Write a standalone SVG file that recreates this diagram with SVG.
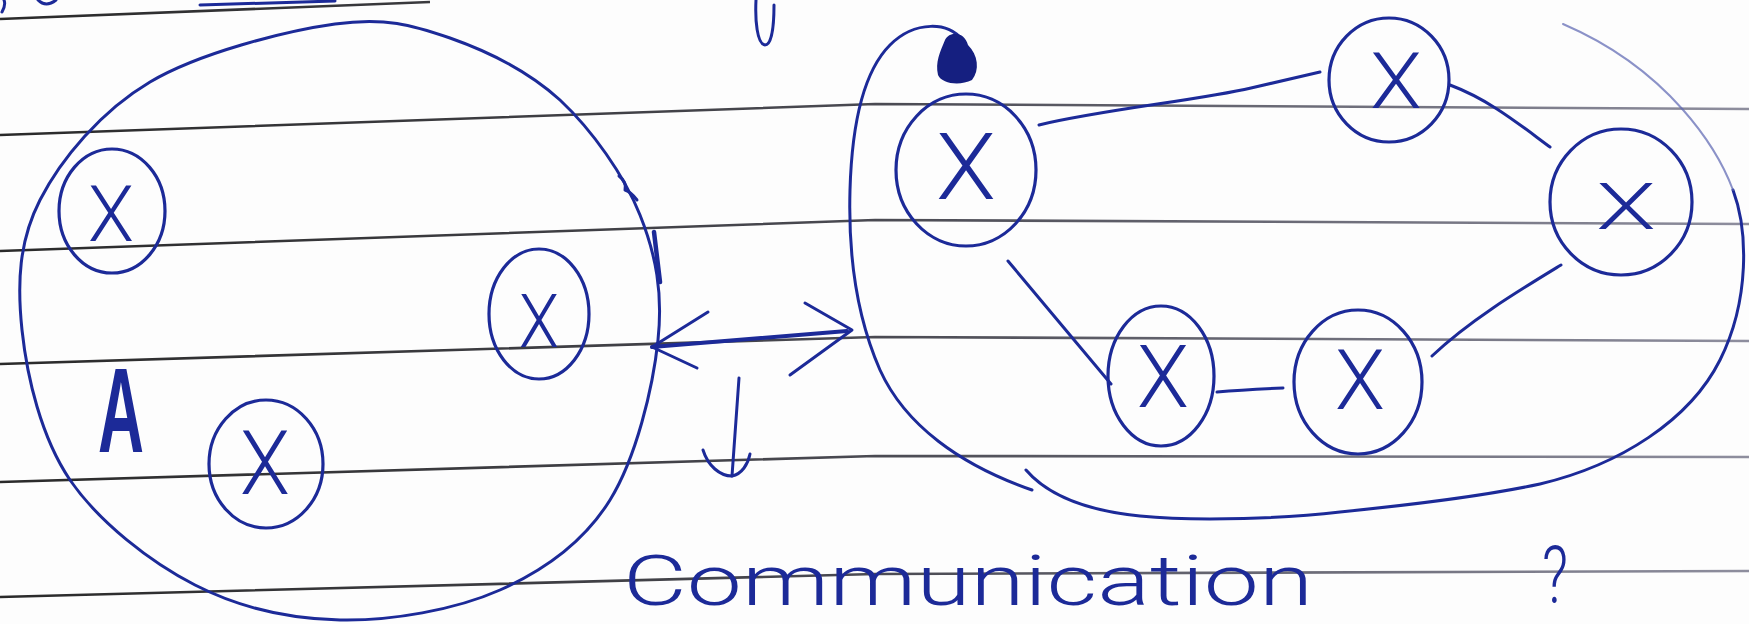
<svg xmlns="http://www.w3.org/2000/svg" width="1749" height="624" viewBox="0 0 1749 624">
<defs>
<linearGradient id="rule" gradientUnits="userSpaceOnUse" x1="0" y1="0" x2="1749" y2="0">
<stop offset="0" stop-color="#2a2a2a"/>
<stop offset="0.5" stop-color="#4a4a52"/>
<stop offset="1" stop-color="#8e8e9e"/>
</linearGradient>
</defs>
<style>
.rule{fill:none;stroke:url(#rule);stroke-width:2.6}
.ink{fill:none;stroke:#1c2a98;stroke-width:3;stroke-linecap:round;stroke-linejoin:round}
.faint{fill:none;stroke:#5a64b0;stroke-width:2;stroke-linecap:round;opacity:0.7}
.node{fill:none;stroke:#1c2a98;stroke-width:3.2}
.x{font-family:Roboto,'Liberation Sans',sans-serif;font-weight:300;fill:#1c2a98;text-anchor:middle}
.hand{font-family:Roboto,'Liberation Sans',sans-serif;font-weight:300;fill:#1c2a98}
</style>
<rect width="1749" height="624" fill="#fdfdfd"/>
<g id="rules">
<path class="rule" d="M0 19 L430 2"/>
<path class="rule" d="M0 135 L875 104 L1749 109"/>
<path class="rule" d="M0 251 L875 220 L1749 224"/>
<path class="rule" d="M0 364 L875 337 L1749 341"/>
<path class="rule" d="M0 482 L875 456 L1749 457"/>
<path class="rule" d="M0 597 L875 574 L1749 571"/>
</g>
<g id="top-fragments">
<path class="ink" d="M2 12 Q6 5 4 0"/>
<path class="ink" d="M38 0 Q46 8 56 0"/>
<path class="ink" d="M200 5 L335 1"/>
<path class="ink" d="M756 0 C755 20 757 44 765 45 C772 45 774 25 774 5"/>
</g>
<g id="group-A">
<path class="ink" d="M335 24 C285 31 199 53 150 82 C101 111 61 159 40 200 C19 241 17 283 22 330 C27 377 41 437 70 480 C99 522 150 562 195 585 C240 608 289 619 340 620 C391 621 455 610 500 590 C545 570 584 542 610 500 C636 458 653 388 658 340 C663 293 656 255 640 215 C624 175 592 130 560 100 C528 71 487 51 450 38 C412 25 385 17 335 24 Z"/>
<path class="ink" d="M619 176 q8 6 6 14 q6 2 12 10"/>
<path class="ink" style="stroke-width:4.5" d="M654 232 L660 282"/>
<text x="121" y="452" font-family="'Liberation Sans',sans-serif" fill="#1c2a98" font-size="120" font-weight="bold" text-anchor="middle" textLength="46" lengthAdjust="spacingAndGlyphs">A</text>
</g>
<g id="node-a1">
<ellipse class="node" cx="112" cy="211" rx="53" ry="62"/>
<text class="x" x="111" y="241" font-size="78" textLength="46" lengthAdjust="spacingAndGlyphs">X</text>
</g>
<g id="node-a2">
<ellipse class="node" cx="539" cy="314" rx="50" ry="65"/>
<text class="x" x="539" y="347" font-size="75" textLength="40" lengthAdjust="spacingAndGlyphs">X</text>
</g>
<g id="node-a3">
<ellipse class="node" cx="266" cy="464" rx="57" ry="64"/>
<text class="x" x="265" y="494" font-size="89" textLength="50" lengthAdjust="spacingAndGlyphs">X</text>
</g>
<g id="group-B">
<path class="ink" d="M962 40 C950 22 915 20 890 45 C865 70 852 120 850 190 C848 260 858 320 880 370 C905 425 960 465 1032 490"/>
<path class="ink" d="M1026 470 C1045 492 1080 510 1140 516 C1200 522 1290 518 1340 512 C1400 506 1480 497 1540 484 C1620 465 1690 420 1720 360 C1750 300 1748 230 1733 190"/>
<path class="faint" d="M1733 190 C1718 150 1670 70 1563 24"/>
<path d="M945 40 C950 30 965 32 968 45 C978 55 980 70 972 80 C960 86 942 84 938 75 C935 62 940 52 945 40 Z" fill="#151f80"/>
</g>
<g id="node-b1">
<ellipse class="node" cx="966" cy="170" rx="70" ry="76"/>
<text class="x" x="966" y="199" font-size="92" textLength="60" lengthAdjust="spacingAndGlyphs">X</text>
</g>
<g id="node-b2">
<ellipse class="node" cx="1389" cy="80" rx="60" ry="62"/>
<text class="x" x="1396" y="108" font-size="77" textLength="52" lengthAdjust="spacingAndGlyphs">X</text>
</g>
<g id="node-b3">
<ellipse class="node" cx="1621" cy="202" rx="71" ry="73"/>
<text class="x" x="1626" y="229" font-size="64" textLength="60" lengthAdjust="spacingAndGlyphs">X</text>
</g>
<g id="node-b4">
<ellipse class="node" cx="1161" cy="376" rx="53" ry="70"/>
<text class="x" x="1163" y="407" font-size="87" textLength="52" lengthAdjust="spacingAndGlyphs">X</text>
</g>
<g id="node-b5">
<ellipse class="node" cx="1358" cy="382" rx="64" ry="72"/>
<text class="x" x="1360" y="409" font-size="84" textLength="50" lengthAdjust="spacingAndGlyphs">X</text>
</g>
<g id="connectors">
<path class="ink" d="M1039 125 C1100 110 1200 100 1251 88 L1320 72"/>
<path class="ink" d="M1450 85 C1490 100 1520 125 1550 147"/>
<path class="ink" d="M1561 265 C1520 290 1470 320 1432 356"/>
<path class="ink" d="M1217 392 C1240 390 1260 389 1283 388"/>
<path class="ink" d="M1008 261 L1111 384"/>
<path class="ink" style="stroke-width:4" d="M652 347 L847 331"/>
<path class="ink" d="M708 312 L652 347 L697 368"/>
<path class="ink" d="M805 303 L852 330 L790 375"/>
<path class="ink" d="M739 378 L732 476"/>
<path class="ink" d="M703 450 C708 466 720 476 732 476 C742 474 748 464 750 454"/>
</g>
<g id="labels">
<text class="hand" x="623" y="605" font-size="70" textLength="690" lengthAdjust="spacingAndGlyphs">Communication</text>
<text class="hand" x="1555" y="603" font-size="80" text-anchor="middle" textLength="26" lengthAdjust="spacingAndGlyphs">?</text>
</g>
</svg>
